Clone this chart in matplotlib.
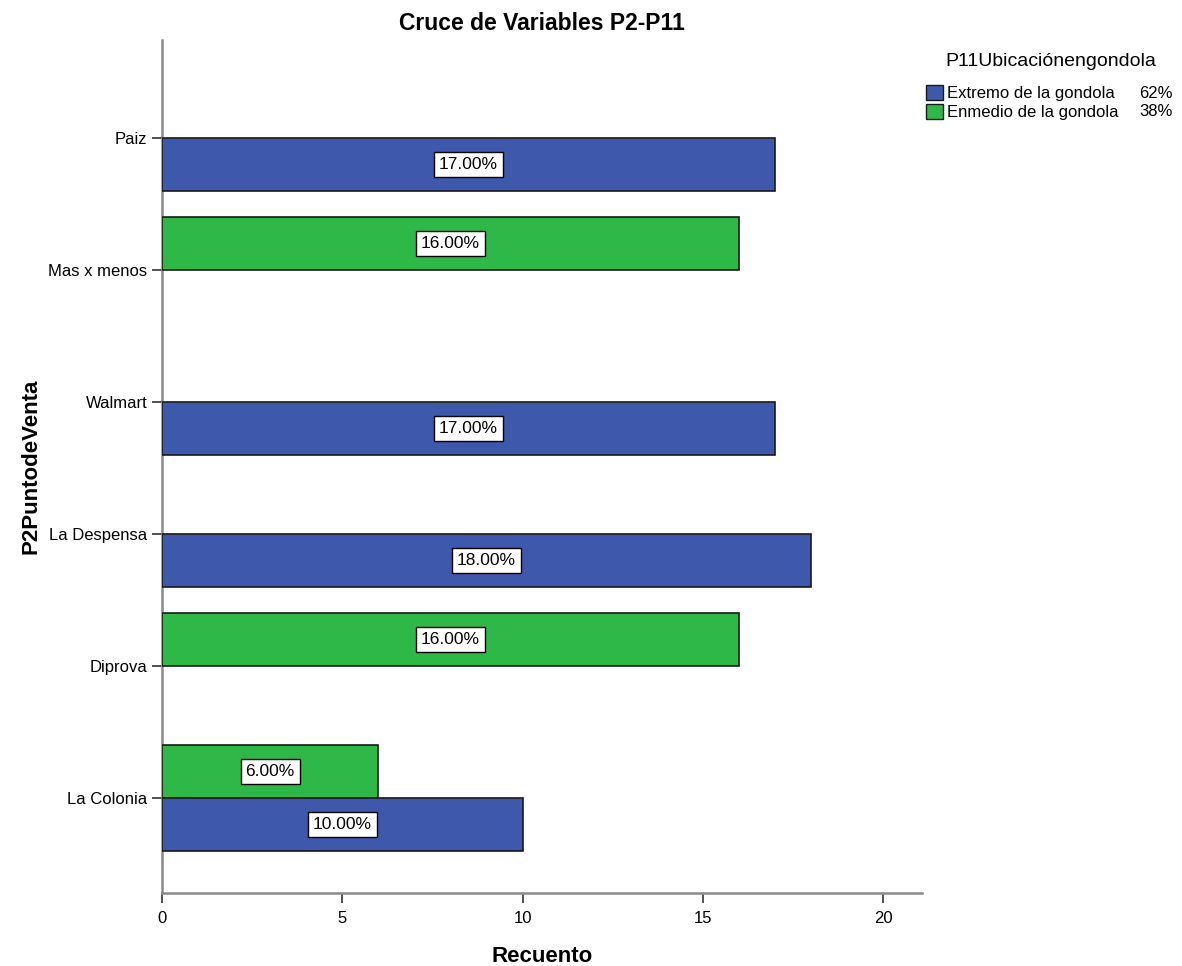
import numpy as np
import matplotlib
matplotlib.use("Agg")
import matplotlib.pyplot as plt
from matplotlib.patches import Patch

plt.rcParams['font.family'] = ['Liberation Sans', 'DejaVu Sans']

# Data
categories = ["Paiz", "Mas x menos", "Walmart", "La Despensa", "Diprova", "La Colonia"]
extremo = [17, 0, 17, 18, 0, 10]
enmedio = [0, 16, 0, 0, 16, 6]
series_names = ["Extremo de la gondola", "Enmedio de la gondola"]
series_pct = ["62%", "38%"]
total = 100

blue = "#3E58AC"
green = "#2EB848"

W, H = 1182, 966
fig = plt.figure(figsize=(W / 100, H / 100), dpi=100)
ax = fig.add_axes([162 / W, 73 / H, (922 - 162) / W, (893 - 40) / H])

pos = np.arange(len(categories))
h = 0.40
box = dict(boxstyle='square,pad=0.28', fc='white', ec='black', lw=1)

for i, (b, g) in enumerate(zip(extremo, enmedio)):
    if g > 0:
        ax.barh(pos[i] - h, g, height=h, align='edge', color=green,
                edgecolor="#1a1a1a", linewidth=1.2, zorder=3)
        ax.text(g / 2, pos[i] - h / 2, f"{g / total * 100:.2f}%", ha='center', va='center',
                fontsize=12.5, zorder=4, bbox=box)
    if b > 0:
        ax.barh(pos[i], b, height=h, align='edge', color=blue,
                edgecolor="#1a1a1a", linewidth=1.2, zorder=3)
        ax.text(b / 2, pos[i] + h / 2, f"{b / total * 100:.2f}%", ha='center', va='center',
                fontsize=12.5, zorder=4, bbox=box)

ax.set_xlim(0, 21.08)
ax.set_ylim(5.72, -0.742)
ax.set_xticks([0, 5, 10, 15, 20])
ax.set_yticks(pos)
ax.set_yticklabels(categories)
ax.tick_params(axis='both', labelsize=12, length=7, width=1.2, color="#333333")
ax.tick_params(axis='x', pad=6)

for s in ['top', 'right']:
    ax.spines[s].set_visible(False)
for s in ['left', 'bottom']:
    ax.spines[s].set_color("#8a8a8a")
    ax.spines[s].set_linewidth(1.8)

ax.set_title("Cruce de Variables P2-P11", fontsize=16.5, fontweight='bold', pad=7)
ax.set_xlabel("Recuento", fontsize=16, fontweight='bold', labelpad=14)
ax.set_ylabel("P2PuntodeVenta", fontsize=16, fontweight='bold', labelpad=5)

# Legend
fig.text(1051 / W, 1 - 61 / H, "P11Ubicaciónengondola", ha='center', va='center', fontsize=14)
handles = [Patch(facecolor=blue, edgecolor="#1a1a1a"), Patch(facecolor=green, edgecolor="#1a1a1a")]
fig.legend(handles, series_names, loc='upper left',
           bbox_to_anchor=(926 / W, 1 - 85 / H), frameon=False, fontsize=12,
           handlelength=1.0, handleheight=1.0, handletextpad=0.25,
           labelspacing=0.15, borderaxespad=0, borderpad=0)
for k, p in enumerate(series_pct):
    fig.text(1173 / W, 1 - (93 + 19 * k) / H, p, ha='right', va='center', fontsize=12)

fig.savefig("out.png", dpi=100)
